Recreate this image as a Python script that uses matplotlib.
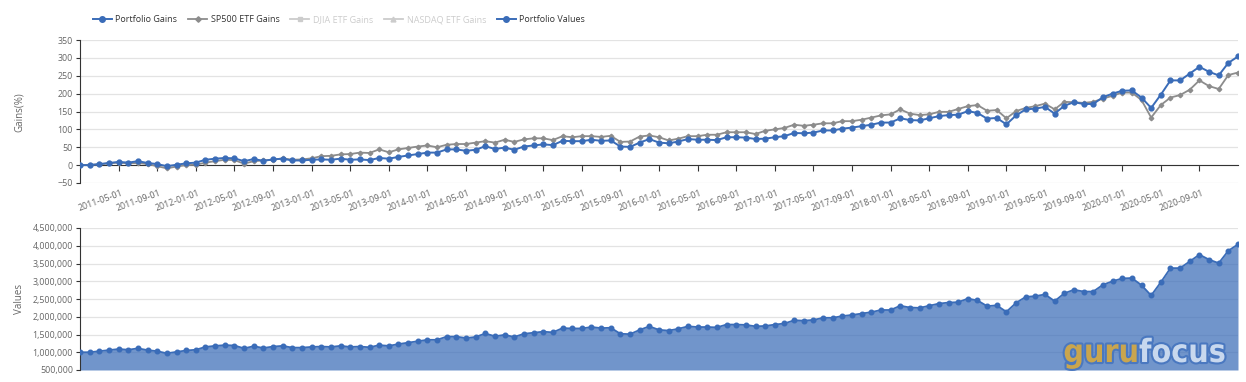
import matplotlib.pyplot as plt
import matplotlib.transforms as mtransforms
import matplotlib.patheffects as pe
import matplotlib.ticker as mticker
from matplotlib.lines import Line2D
import pandas as pd

plt.rcParams['font.family'] = ['Open Sans', 'DejaVu Sans']

# monthly points, 2011-01 .. 2021-01
dates = pd.date_range('2011-01-01', periods=121, freq='MS').strftime('%Y-%m-%d')

portfolio_gains = [
    0, 0, 3, 6, 9, 7, 11, 6, 3, -3, 1, 5, 7, 15, 18, 20, 19, 11, 17, 12,
    16, 18, 13, 13, 15, 16, 15, 18, 15, 16, 14, 20, 18, 23, 27, 31,
    35, 35, 44, 44, 40, 43, 53, 45, 49, 43, 52, 55, 58, 56, 68, 67, 67, 71,
    68, 69, 52, 51, 63, 73, 63, 61, 66, 73, 71, 71, 70, 78, 78, 77, 73, 74,
    78, 81, 90, 89, 91, 97, 97, 102, 105, 109, 113, 119, 119, 131, 126, 125,
    131, 137, 140, 141, 151, 146, 130, 132, 114, 139, 156, 158, 163, 144, 166,
    176, 171, 171, 190, 200, 208, 209, 189, 160, 197, 237, 237, 256, 275, 261,
    251, 286, 304,
]

sp500_gains = [
    0, 1, 2, 5, 7, 5, 6, 3, -3, -9, -4, 0, 1, 7, 11, 15, 14, 4, 11, 13,
    15, 19, 15, 16, 19, 25, 26, 30, 31, 35, 34, 44, 36, 44, 48, 52,
    55, 50, 57, 59, 59, 63, 67, 63, 71, 65, 72, 75, 75, 70, 81, 78, 81, 81,
    79, 82, 65, 66, 80, 83, 78, 69, 74, 81, 81, 85, 85, 92, 92, 92, 87, 96,
    100, 104, 113, 110, 113, 117, 117, 123, 123, 127, 133, 139, 142, 156, 144, 140,
    142, 149, 149, 157, 165, 168, 152, 154, 131, 151, 160, 165, 172, 156, 177,
    176, 174, 177, 186, 194, 203, 203, 182, 133, 168, 189, 196, 211, 237, 221,
    213, 252, 259,
]

# portfolio value, thousands of dollars
portfolio_values_k = [
    1000, 1000, 1030, 1060, 1090, 1070, 1110, 1060, 1030, 970, 1010, 1050, 1070, 1150,
    1180, 1200, 1190, 1110, 1170, 1120, 1160, 1180, 1130, 1130, 1150, 1160, 1150, 1180,
    1150, 1160, 1140, 1200, 1180, 1230, 1270, 1310,
    1350, 1350, 1440, 1440, 1400, 1430, 1530, 1450, 1490, 1430, 1520, 1550, 1580, 1560,
    1680, 1670, 1670, 1710, 1680, 1690, 1520, 1510, 1630, 1730, 1630, 1610, 1660, 1730,
    1710, 1710, 1700, 1780, 1780, 1770, 1730, 1740, 1780, 1810, 1900, 1890, 1910,
    1970, 1970, 2020, 2050, 2090, 2130, 2190, 2190, 2310, 2260, 2250, 2310, 2370, 2400,
    2410, 2510, 2460, 2300, 2320, 2140, 2390, 2560, 2580, 2630, 2440, 2660, 2760, 2710,
    2710, 2900, 3000, 3080, 3090, 2890, 2600, 2970, 3370, 3370, 3560, 3750, 3610, 3510,
    3860, 4040,
]

blue = '#3a6cb8'
gray = '#8c8c8c'
grid_c = '#e3e3e3'
axis_c = '#333333'
label_c = '#666666'
fs = 6.4

W, H = 1246, 382
fig = plt.figure(figsize=(W / 100, H / 100), dpi=100)
ax1 = fig.add_axes([80 / W, 1 - 183 / H, 1158 / W, 143 / H])
ax2 = fig.add_axes([80 / W, 1 - 370 / H, 1158 / W, 142 / H])

x = list(range(len(dates)))

# ---- gains panel
ax1.plot(x, sp500_gains, color=gray, lw=1.3, marker='D', ms=2.3, zorder=3)
ax1.plot(x, portfolio_gains, color=blue, lw=1.4, marker='o', ms=3.5, zorder=4)
ax1.set_xlim(0, len(x) - 1)
ax1.set_ylim(-50, 350)
ax1.set_yticks(range(-50, 351, 50))
ax1.grid(axis='y', color=grid_c, lw=0.9, zorder=0)
ax1.set_xticks(range(4, len(x) - 1, 4))
for s in ['top', 'right']:
    ax1.spines[s].set_visible(False)
ax1.spines['left'].set_color(axis_c)
ax1.spines['bottom'].set_color(axis_c)
ax1.spines['bottom'].set_position(('data', 0))
ax1.tick_params(axis='x', length=4, color=axis_c, labelbottom=False)
ax1.tick_params(axis='y', length=3, color=axis_c, labelsize=fs, labelcolor=label_c, pad=2)

trans = mtransforms.blended_transform_factory(ax1.transData, ax1.transAxes)
for i in range(4, len(x) - 1, 4):
    ax1.text(i + 0.4, -0.065, dates[i], transform=trans, rotation=20,
             ha='right', va='center', rotation_mode='anchor',
             fontsize=fs, color=label_c)

# ---- values panel
ax2.fill_between(x, portfolio_values_k, 500, color=blue, alpha=0.72, lw=0, zorder=2)
ax2.plot(x, portfolio_values_k, color=blue, lw=1.3, marker='o', ms=3.3, zorder=3)
ax2.set_xlim(0, len(x) - 1)
ax2.set_ylim(500, 4500)
ax2.set_yticks(range(500, 4501, 500))
ax2.yaxis.set_major_formatter(mticker.FuncFormatter(lambda v, p: f"{int(v * 1000):,}"))
ax2.grid(axis='y', color=grid_c, lw=0.9, zorder=0)
ax2.set_xticks([])
for s in ['top', 'right', 'bottom']:
    ax2.spines[s].set_visible(False)
ax2.spines['left'].set_color(axis_c)
ax2.tick_params(axis='y', length=3, color=axis_c, labelsize=fs, labelcolor=label_c, pad=2)

fig.text(19 / W, 1 - 112 / H, 'Gains(%)', rotation=90, ha='center', va='center',
         fontsize=7, color=label_c)
fig.text(19 / W, 1 - 299 / H, 'Values', rotation=90, ha='center', va='center',
         fontsize=7, color=label_c)

# ---- legend
handles = [
    Line2D([], [], color=blue, lw=1.4, marker='o', ms=4),
    Line2D([], [], color=gray, lw=1.3, marker='D', ms=2.8),
    Line2D([], [], color='#cccccc', lw=1.3, marker='s', ms=3.5),
    Line2D([], [], color='#cccccc', lw=1.3, marker='^', ms=3.5),
    Line2D([], [], color=blue, lw=1.4, marker='o', ms=4),
]
names = ['Portfolio Gains', 'SP500 ETF Gains', 'DJIA ETF Gains',
         'NASDAQ ETF Gains', 'Portfolio Values']
leg = fig.legend(handles, names, loc='center', bbox_to_anchor=(339 / W, 1 - 20 / H),
                 ncol=5, frameon=False, fontsize=6.5, handlelength=2.1,
                 columnspacing=1.2, handletextpad=0.4)
for t, c in zip(leg.get_texts(), ['#333333', '#333333', '#cccccc', '#cccccc', '#333333']):
    t.set_color(c)

# ---- watermark
outline = [pe.withStroke(linewidth=3, foreground='#4a78c0')]
fig.text(1139 / W, 1 - 362 / H, 'guru', ha='right', va='baseline', fontsize=23,
         fontweight='bold', fontstretch='condensed', family='DejaVu Sans',
         color='#c9a54e', path_effects=outline, zorder=10)
fig.text(1139 / W, 1 - 362 / H, 'focus', ha='left', va='baseline', fontsize=23,
         fontweight='bold', fontstretch='condensed', family='DejaVu Sans',
         color='#c8d8ee', path_effects=outline, zorder=10)

plt.savefig('out.png', dpi=100)
